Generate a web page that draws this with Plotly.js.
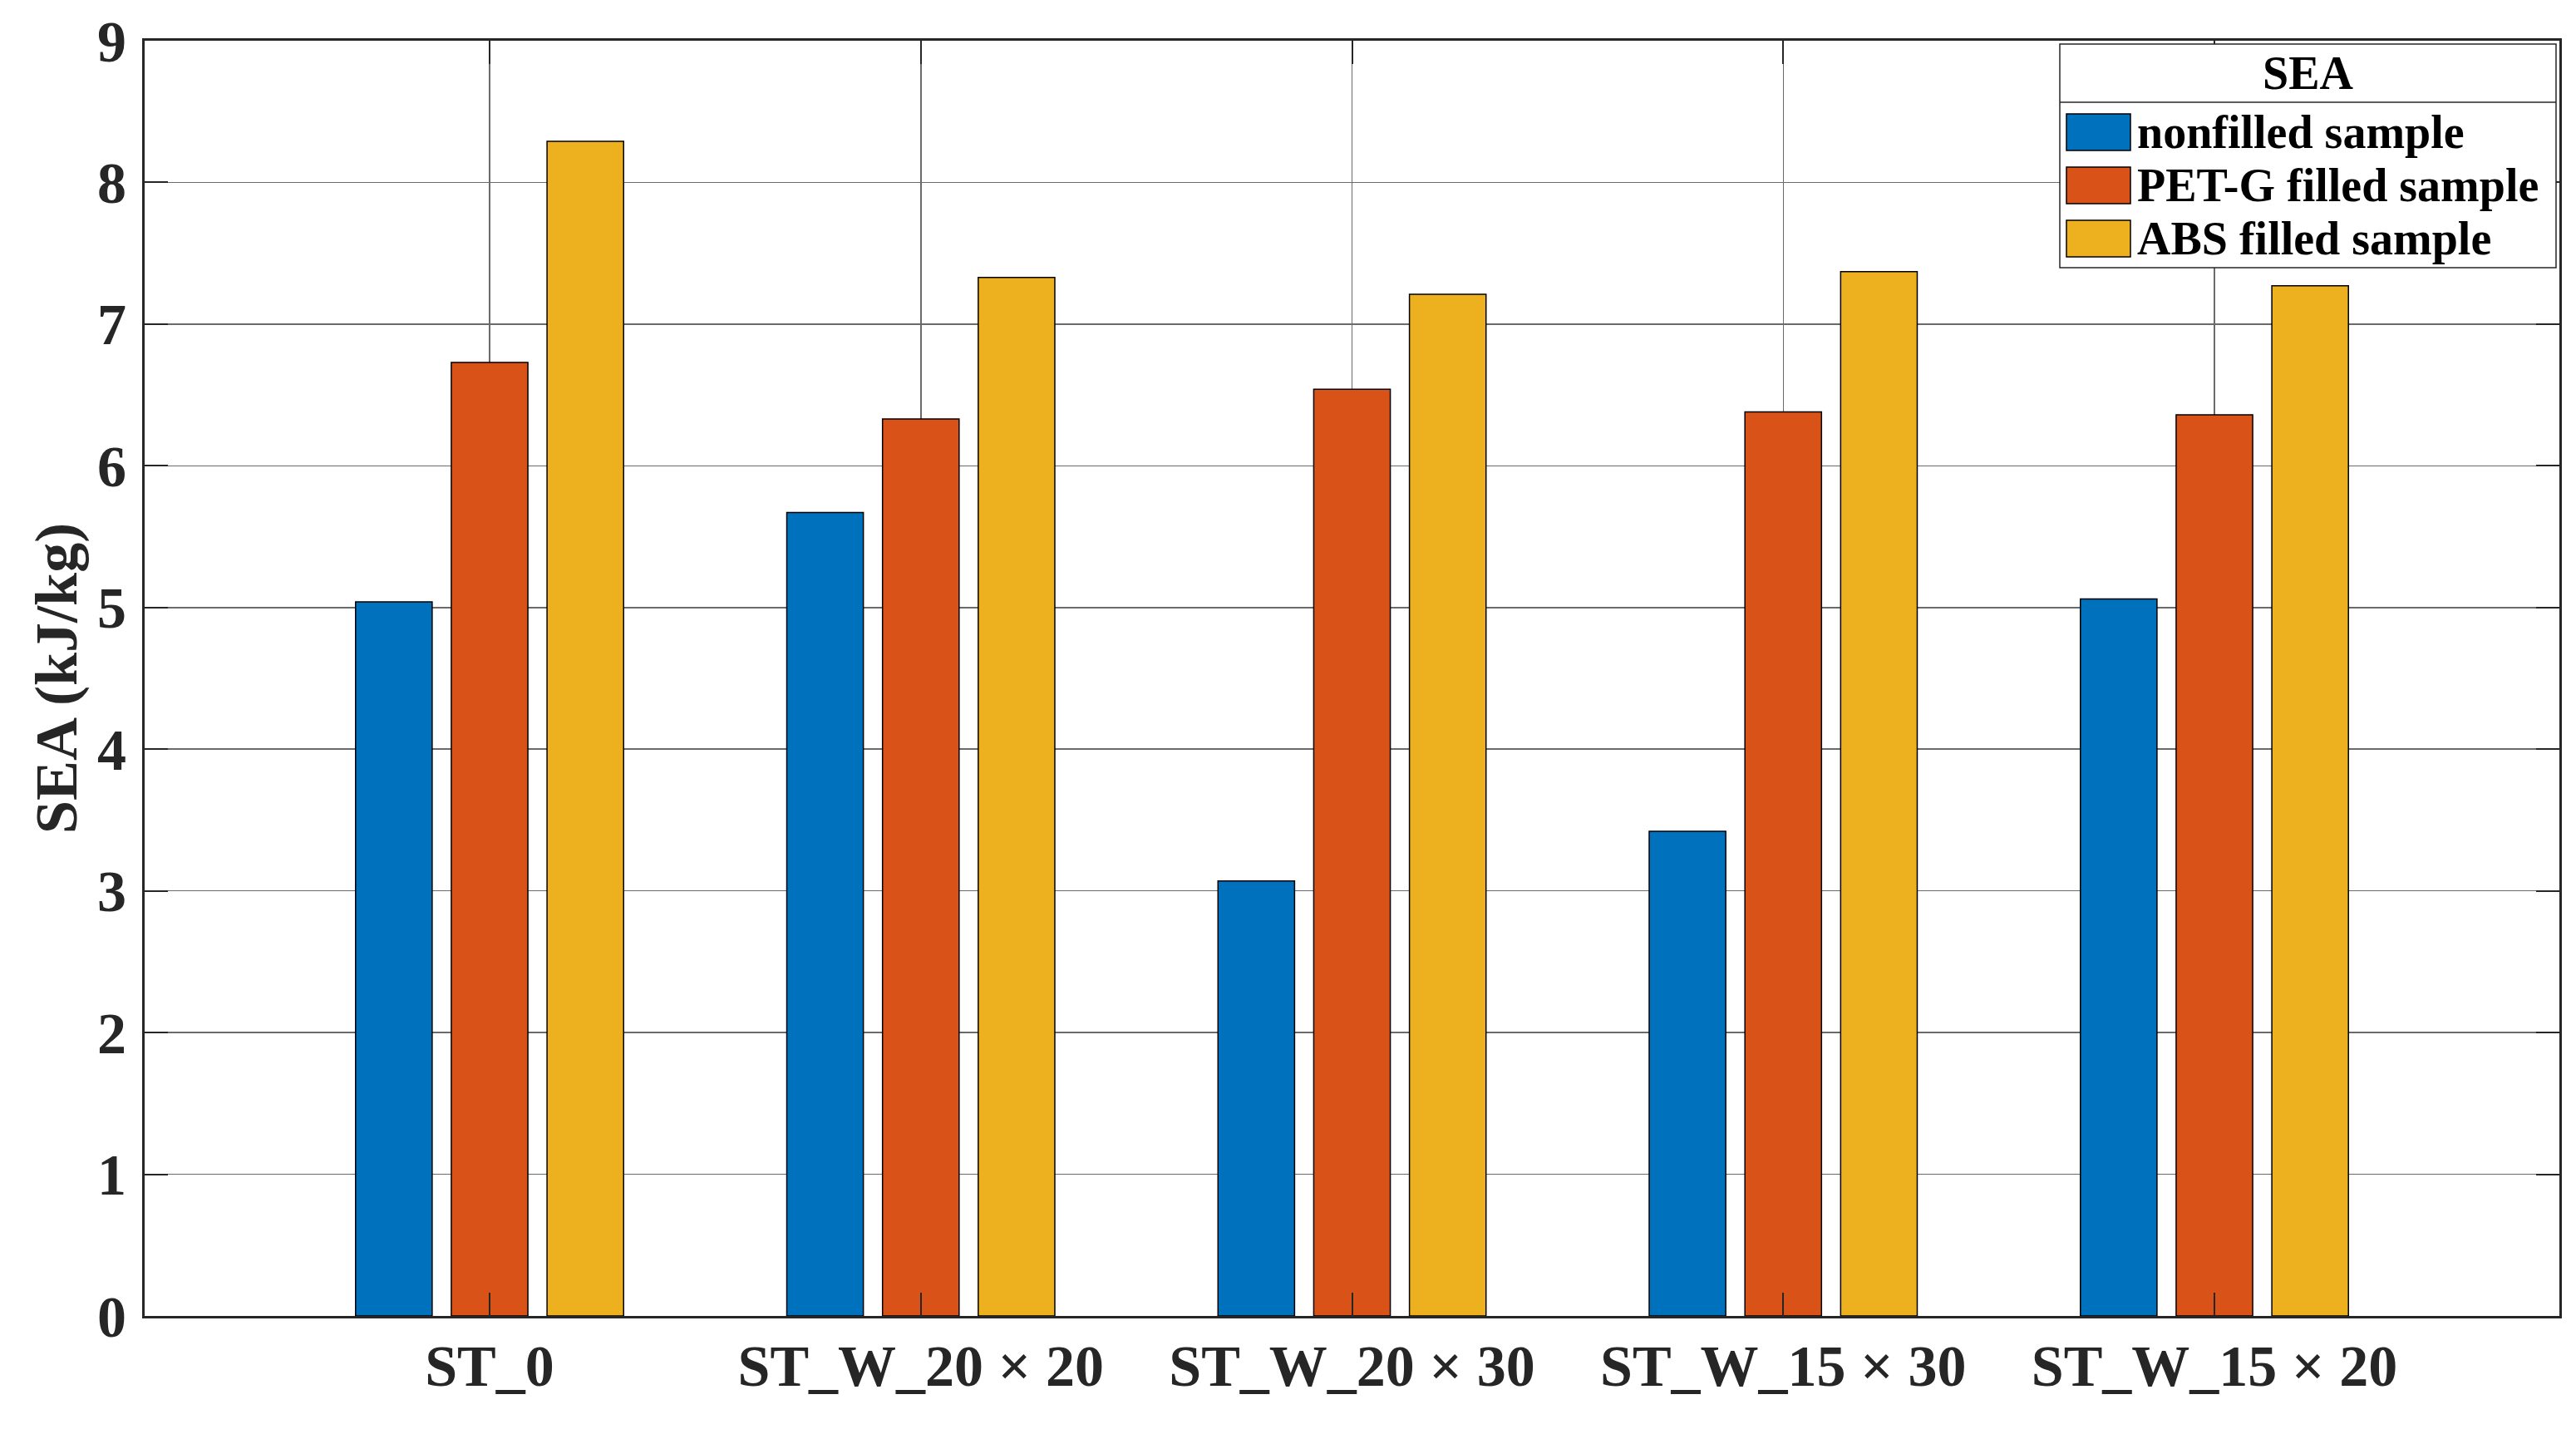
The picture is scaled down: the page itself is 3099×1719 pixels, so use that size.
<!DOCTYPE html>
<html>
<head>
<meta charset="utf-8">
<script src="https://cdn.plot.ly/plotly-3.0.1.min.js"></script>
<style>
html,body{margin:0;padding:0;background:#fff;}
#chart{width:3099px;height:1719px;}
</style>
</head>
<body>
<div id="chart"></div>
<script>
// ---- data ----
const categories = ['ST_0', 'ST_W_20 × 20', 'ST_W_20 × 30', 'ST_W_15 × 30', 'ST_W_15 × 20'];
const seriesNames = ['nonfilled sample', 'PET-G filled sample', 'ABS filled sample'];
const nonfilled = [5.04, 5.67, 3.07, 3.42, 5.06];
const petg = [6.73, 6.33, 6.54, 6.38, 6.36];
const abs = [8.29, 7.33, 7.21, 7.37, 7.27];
const yTicks = [0, 1, 2, 3, 4, 5, 6, 7, 8, 9];
const legendTitle = 'SEA';
const yTitle = 'SEA (kJ/kg)';

// ---- styles ----
const colors = ['#0072BD', '#D95319', '#EDB120'];
const FONT = 'Liberation Serif, Times New Roman, serif';
const W = 3099, H = 1719;
const M = {l: 174, r: 20, t: 49, b: 136};
const PW = W - M.l - M.r, PH = H - M.t - M.b;
const px = x => (x - M.l) / PW;
const py = y => (H - M.b - y) / PH;

const values = [nonfilled, petg, abs];
const traces = values.map((v, i) => ({
  type: 'bar',
  x: categories,
  y: v,
  name: seriesNames[i],
  marker: {color: colors[i], line: {color: '#000', width: 1.5}},
  showlegend: false,
  hoverinfo: 'x+y+name'
}));

// custom legend (MATLAB style with title separator)
const shapes = [
  {type: 'rect', xref: 'paper', yref: 'paper', x0: px(2478), x1: px(3075), y0: py(322), y1: py(53),
   line: {color: '#262626', width: 1.5}, fillcolor: '#ffffff', layer: 'above'},
  {type: 'line', xref: 'paper', yref: 'paper', x0: px(2478), x1: px(3075), y0: py(123), y1: py(123),
   line: {color: '#262626', width: 1.5}, layer: 'above'}
];
const annotations = [
  {xref: 'paper', yref: 'paper', x: (px(2478) + px(3075)) / 2, y: py(88), text: legendTitle,
   showarrow: false, xanchor: 'center', yanchor: 'middle',
   font: {family: FONT, size: 56, weight: 'bold', color: '#000'}},
  {xref: 'paper', yref: 'paper', x: px(68), y: 0.5, text: yTitle, textangle: -90,
   showarrow: false, xanchor: 'center', yanchor: 'middle',
   font: {family: FONT, size: 72, weight: 'bold', color: '#262626'}}
];
const rowCenters = [159, 223, 287];
seriesNames.forEach((n, i) => {
  const c = rowCenters[i];
  shapes.push({type: 'rect', xref: 'paper', yref: 'paper', x0: px(2486), x1: px(2563),
    y0: py(c + 22), y1: py(c - 22), fillcolor: colors[i], line: {color: '#000', width: 1.5}, layer: 'above'});
  annotations.push({xref: 'paper', yref: 'paper', x: px(2569), y: py(c), text: n, showarrow: false,
    xanchor: 'left', yanchor: 'middle', font: {family: FONT, size: 56, weight: 'bold', color: '#000'}});
});

const layout = {
  width: W, height: H,
  margin: M,
  paper_bgcolor: '#ffffff', plot_bgcolor: '#ffffff',
  barmode: 'group',
  bargap: 0.334,
  bargroupgap: 0.2,
  font: {family: FONT, color: '#262626'},
  xaxis: {
    type: 'category',
    range: [-0.8, 4.8],
    showgrid: true, gridcolor: '#6a6a6a', gridwidth: 1.5,
    showline: true, linecolor: '#262626', linewidth: 3, mirror: 'ticks',
    ticks: 'inside', ticklen: 28, tickwidth: 2, tickcolor: '#262626',
    tickfont: {family: FONT, size: 70, weight: 'bold', color: '#262626'},
    ticklabelstandoff: -3,
    zeroline: false
  },
  yaxis: {
    range: [0, 9],
    tickvals: yTicks,
    ticktext: yTicks.map(String),
    showgrid: true, gridcolor: '#6a6a6a', gridwidth: 1.5,
    showline: true, linecolor: '#262626', linewidth: 3, mirror: 'ticks',
    ticks: 'inside', ticklen: 28, tickwidth: 2, tickcolor: '#262626',
    tickfont: {family: FONT, size: 70, weight: 'bold', color: '#262626'},
    ticklabelstandoff: 5,
    zeroline: false
  },
  shapes: shapes,
  annotations: annotations,
  showlegend: false
};

Plotly.newPlot('chart', traces, layout, {displayModeBar: false, staticPlot: true});
</script>
</body>
</html>
